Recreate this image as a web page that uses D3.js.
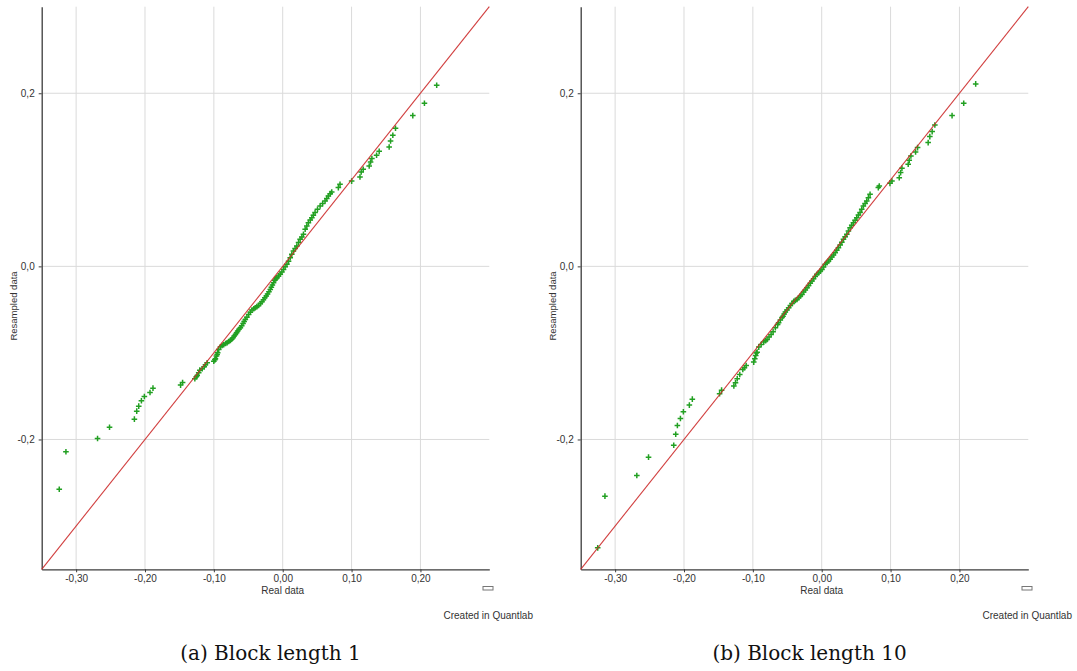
<!DOCTYPE html>
<html>
<head>
<meta charset="utf-8">
<script src="https://cdn.jsdelivr.net/npm/d3@7"></script>
<style>
  html, body { margin: 0; padding: 0; background: #ffffff; }
  svg { display: block; }
</style>
</head>
<body>
<svg id="chart" width="1077" height="671"></svg>
<script>
// Q-Q plots: sorted real returns against sorted bootstrap-resampled returns

const xTicks = [-0.30, -0.20, -0.10, 0.00, 0.10, 0.20];
const yTicks = [-0.2, 0.0, 0.2];
const axisDomain = [-0.35, 0.30];
const captions = ["(a) Block length 1", "(b) Block length 10"];

// [real, resampled] quantile pairs, block length 1
const qqBlock1 = [
  [-0.3245,-0.2575],[-0.3148,-0.2142],[-0.2689,-0.1988],[-0.2515,-0.1858],
  [-0.2154,-0.1765],[-0.2120,-0.1673],[-0.2091,-0.1615],[-0.2052,-0.1553],
  [-0.2009,-0.1503],[-0.1927,-0.1457],[-0.1884,-0.1407],[-0.1483,-0.1372],
  [-0.1454,-0.1341],[-0.1276,-0.1298],[-0.1255,-0.1275],[-0.1242,-0.1260],
  [-0.1220,-0.1230],[-0.1204,-0.1199],[-0.1169,-0.1183],[-0.1140,-0.1160],
  [-0.1122,-0.1137],[-0.1097,-0.1114],[-0.1001,-0.1095],[-0.0985,-0.1080],
  [-0.0977,-0.1067],[-0.0962,-0.1037],[-0.0952,-0.1017],[-0.0944,-0.0998],
  [-0.0929,-0.0960],[-0.0904,-0.0929],[-0.0880,-0.0915],[-0.0857,-0.0905],
  [-0.0830,-0.0892],[-0.0807,-0.0882],[-0.0785,-0.0868],[-0.0760,-0.0855],
  [-0.0740,-0.0842],[-0.0721,-0.0825],[-0.0705,-0.0805],[-0.0687,-0.0786],
  [-0.0670,-0.0768],[-0.0654,-0.0748],[-0.0635,-0.0728],[-0.0615,-0.0709],
  [-0.0595,-0.0685],[-0.0576,-0.0659],[-0.0560,-0.0636],[-0.0543,-0.0613],
  [-0.0520,-0.0588],[-0.0495,-0.0555],[-0.0470,-0.0530],[-0.0446,-0.0505],
  [-0.0420,-0.0490],[-0.0398,-0.0478],[-0.0375,-0.0465],[-0.0350,-0.0451],
  [-0.0325,-0.0430],[-0.0301,-0.0410],[-0.0280,-0.0385],[-0.0260,-0.0362],
  [-0.0239,-0.0343],[-0.0220,-0.0318],[-0.0200,-0.0292],[-0.0181,-0.0266],
  [-0.0165,-0.0240],[-0.0150,-0.0215],[-0.0133,-0.0189],[-0.0115,-0.0160],
  [-0.0100,-0.0145],[-0.0084,-0.0131],[-0.0060,-0.0110],[-0.0036,-0.0092],
  [-0.0012,-0.0064],[0.0012,-0.0035],[0.0035,-0.0005],[0.0061,0.0023],
  [0.0085,0.0060],[0.0109,0.0100],[0.0132,0.0140],[0.0156,0.0177],
  [0.0180,0.0205],[0.0205,0.0235],[0.0230,0.0275],[0.0253,0.0312],
  [0.0278,0.0340],[0.0301,0.0370],[0.0326,0.0428],[0.0350,0.0465],
  [0.0373,0.0505],[0.0400,0.0535],[0.0423,0.0563],[0.0445,0.0590],
  [0.0470,0.0621],[0.0505,0.0660],[0.0543,0.0697],[0.0580,0.0725],
  [0.0615,0.0755],[0.0640,0.0785],[0.0663,0.0813],[0.0690,0.0840],
  [0.0712,0.0859],[0.0808,0.0910],[0.0832,0.0948],[0.1001,0.0985],
  [0.1122,0.1032],[0.1140,0.1090],[0.1169,0.1121],[0.1256,0.1160],
  [0.1276,0.1206],[0.1295,0.1245],[0.1363,0.1283],[0.1401,0.1329],
  [0.1546,0.1379],[0.1566,0.1449],[0.1599,0.1514],[0.1638,0.1595],
  [0.1889,0.1742],[0.2058,0.1884],[0.2236,0.2092]
];

// [real, resampled] quantile pairs, block length 10
const qqBlock10 = [
  [-0.3253,-0.3252],[-0.3148,-0.2655],[-0.2685,-0.2416],[-0.2515,-0.2204],
  [-0.2149,-0.2066],[-0.2120,-0.1939],[-0.2096,-0.1838],[-0.2052,-0.1757],
  [-0.2009,-0.1680],[-0.1922,-0.1603],[-0.1879,-0.1534],[-0.1483,-0.1472],
  [-0.1454,-0.1430],[-0.1276,-0.1383],[-0.1252,-0.1345],[-0.1227,-0.1298],
  [-0.1190,-0.1249],[-0.1146,-0.1191],[-0.1122,-0.1171],[-0.1097,-0.1145],
  [-0.0987,-0.1106],[-0.0972,-0.1067],[-0.0958,-0.1029],[-0.0950,-0.1000],
  [-0.0938,-0.0991],[-0.0914,-0.0933],[-0.0880,-0.0902],[-0.0842,-0.0875],
  [-0.0815,-0.0860],[-0.0793,-0.0844],[-0.0765,-0.0815],[-0.0735,-0.0786],
  [-0.0706,-0.0755],[-0.0673,-0.0709],[-0.0640,-0.0671],[-0.0626,-0.0651],
  [-0.0601,-0.0621],[-0.0576,-0.0590],[-0.0562,-0.0575],[-0.0545,-0.0550],
  [-0.0528,-0.0528],[-0.0505,-0.0503],[-0.0480,-0.0478],[-0.0455,-0.0453],
  [-0.0431,-0.0428],[-0.0405,-0.0405],[-0.0384,-0.0393],[-0.0359,-0.0382],
  [-0.0335,-0.0362],[-0.0310,-0.0343],[-0.0287,-0.0324],[-0.0262,-0.0297],
  [-0.0238,-0.0272],[-0.0214,-0.0247],[-0.0190,-0.0222],[-0.0166,-0.0196],
  [-0.0142,-0.0170],[-0.0118,-0.0144],[-0.0094,-0.0118],[-0.0070,-0.0092],
  [-0.0045,-0.0075],[-0.0020,-0.0055],[0.0003,-0.0035],[0.0027,-0.0006],
  [0.0051,0.0023],[0.0075,0.0043],[0.0099,0.0062],[0.0123,0.0081],
  [0.0147,0.0107],[0.0171,0.0132],[0.0195,0.0158],[0.0219,0.0187],
  [0.0243,0.0216],[0.0268,0.0248],[0.0292,0.0280],[0.0316,0.0312],
  [0.0340,0.0341],[0.0365,0.0370],[0.0388,0.0408],[0.0412,0.0447],
  [0.0436,0.0476],[0.0460,0.0505],[0.0485,0.0534],[0.0509,0.0563],
  [0.0533,0.0592],[0.0557,0.0621],[0.0581,0.0659],[0.0605,0.0697],
  [0.0630,0.0726],[0.0654,0.0755],[0.0678,0.0794],[0.0702,0.0832],
  [0.0822,0.0910],[0.0836,0.0928],[0.0991,0.0959],[0.1020,0.0985],
  [0.1126,0.1025],[0.1146,0.1083],[0.1165,0.1133],[0.1256,0.1179],
  [0.1271,0.1225],[0.1295,0.1275],[0.1363,0.1321],[0.1392,0.1372],
  [0.1546,0.1430],[0.1570,0.1499],[0.1604,0.1557],[0.1643,0.1634],
  [0.1893,0.1742],[0.2062,0.1884],[0.2236,0.2108]
];

const locale = d3.formatLocale({ decimal: ",", thousands: ".", grouping: [3], currency: ["", ""], minus: "-" });
const fmtX = locale.format(".2f");
const fmtY = locale.format(".1f");

const svg = d3.select("#chart");
const axisColor = "#3c3c3c";
const gridColor = "#dadada";
const uiFont = "'Liberation Sans', Arial, sans-serif";

function drawPanel(offsetX, pairs, caption) {
  const g = svg.append("g").attr("transform", `translate(${offsetX},0)`);
  const x = d3.scaleLinear().domain(axisDomain).range([41.7, 489.3]);
  const y = d3.scaleLinear().domain(axisDomain).range([569.3, 6.7]);

  // grid
  g.append("g").selectAll("line").data(xTicks).join("line")
    .attr("x1", d => x(d)).attr("x2", d => x(d))
    .attr("y1", y.range()[1]).attr("y2", y.range()[0])
    .attr("stroke", gridColor).attr("stroke-width", 1);
  g.append("g").selectAll("line").data(yTicks).join("line")
    .attr("x1", x.range()[0]).attr("x2", x.range()[1])
    .attr("y1", d => y(d)).attr("y2", d => y(d))
    .attr("stroke", gridColor).attr("stroke-width", 1);

  // axes
  const xAxis = d3.axisBottom(x).tickValues(xTicks).tickFormat(fmtX)
    .tickSizeInner(3).tickSizeOuter(0).tickPadding(3);
  const yAxis = d3.axisLeft(y).tickValues(yTicks).tickFormat(fmtY)
    .tickSizeInner(3).tickSizeOuter(0).tickPadding(4);

  const gx = g.append("g").attr("transform", `translate(0,${y.range()[0]})`).call(xAxis);
  const gy = g.append("g").attr("transform", `translate(${x.range()[0]},0)`).call(yAxis);
  [gx, gy].forEach(a => {
    a.select(".domain").attr("stroke", axisColor).attr("stroke-width", 1.3);
    a.selectAll(".tick line").attr("stroke", axisColor);
    a.selectAll(".tick text").attr("fill", "#333").attr("font-family", uiFont).attr("font-size", 10);
  });

  // quantile markers (plus signs)
  const s = 2.8;
  g.append("g").selectAll("path").data(pairs).join("path")
    .attr("d", d => {
      const px = x(d[0]), py = y(d[1]);
      return `M${px - s},${py}H${px + s}M${px},${py - s}V${py + s}`;
    })
    .attr("stroke", "#22a022").attr("stroke-width", 1.5).attr("fill", "none");

  // identity reference line, drawn over the markers
  g.append("line")
    .attr("x1", x(axisDomain[0])).attr("y1", y(axisDomain[0]))
    .attr("x2", x(axisDomain[1])).attr("y2", y(axisDomain[1]))
    .attr("stroke", "#cc2a2a").attr("stroke-width", 1.1).attr("stroke-opacity", 0.9);

  // axis titles
  g.append("text").text("Real data")
    .attr("x", x(0)).attr("y", 594)
    .attr("text-anchor", "middle").attr("font-family", uiFont).attr("font-size", 10).attr("fill", "#333");
  g.append("text").text("Resampled data")
    .attr("transform", `translate(17,306) rotate(-90)`)
    .attr("text-anchor", "middle").attr("font-family", uiFont).attr("font-size", 9.5).attr("fill", "#333");

  // empty legend box
  g.append("rect").attr("x", 483).attr("y", 586.5).attr("width", 10).attr("height", 3.5)
    .attr("fill", "#fff").attr("stroke", "#777").attr("stroke-width", 1);

  g.append("text").text("Created in Quantlab")
    .attr("x", 533).attr("y", 619)
    .attr("text-anchor", "end").attr("font-family", uiFont).attr("font-size", 10).attr("fill", "#333");

  // subfigure caption
  g.append("text").text(caption)
    .attr("x", 270.5).attr("y", 660)
    .attr("text-anchor", "middle").attr("font-family", "'DejaVu Serif', serif")
    .attr("font-size", 20).attr("fill", "#111");
}

drawPanel(0, qqBlock1, captions[0]);
drawPanel(539, qqBlock10, captions[1]);
</script>
</body>
</html>
